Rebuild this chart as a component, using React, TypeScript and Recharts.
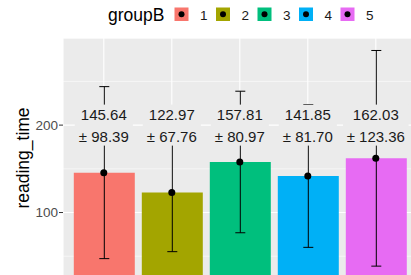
import {
  Bar,
  CartesianGrid,
  Cell,
  ComposedChart,
  ErrorBar,
  Label,
  LabelList,
  Legend,
  Line,
  XAxis,
  YAxis,
} from "recharts";

const groups = ["1", "2", "3", "4", "5"];
const means = [145.64, 122.97, 157.81, 141.85, 162.03];
const sds = [98.39, 67.76, 80.97, 81.7, 123.36];
const labelAt = [200, 200, 200, 200, 200];
const colors = ["#F8766D", "#A3A500", "#00BF7D", "#00B0F6", "#E76BF3"];
const yDomain = [-14.27, 299.66];
const majorTicks = [100, 200];
const minorTicks = [50, 150, 250];

const data = groups.map((g, i) => ({
  group: g,
  mean: means[i],
  sd: sds[i],
  labelAt: labelAt[i],
}));

const FONT = '"Liberation Sans", Arial, Helvetica, sans-serif';
const PANEL = "#EBEBEB";

function GroupLegend() {
  return (
    <svg width={420} height={38} style={{ display: "block" }}>
      <text x={108} y={21} fontSize={17.5} fill="#000" fontFamily={FONT}>
        groupB
      </text>
      {groups.map((g, i) => {
        const kx = 174.5 + i * 41.5;
        return (
          <g key={g}>
            <rect x={kx} y={7.5} width={14} height={13.5} fill={colors[i]} />
            <circle cx={kx + 7} cy={14.25} r={3} fill="#000" />
            <text x={kx + 25.5} y={19.5} fontSize={13.5} fill="#1a1a1a" fontFamily={FONT}>
              {g}
            </text>
          </g>
        );
      })}
    </svg>
  );
}

function StatLabel(props: any) {
  const { x, y, index } = props;
  const top = means[index].toFixed(2);
  const bottom = `± ${sds[index].toFixed(2)}`;
  const w = bottom.length * 7.45 + 6;
  return (
    <g>
      <rect x={x - w / 2} y={y - 20.5} width={w} height={41} fill={PANEL} />
      <text x={x} y={y - 5} textAnchor="middle" fontSize={15} fill="#1a1a1a" fontFamily={FONT}>
        {top}
      </text>
      <text x={x} y={y + 17} textAnchor="middle" fontSize={15} fill="#1a1a1a" fontFamily={FONT}>
        {bottom}
      </text>
    </g>
  );
}

export default function App() {
  return (
    <div
      style={{
        position: "absolute",
        left: 0,
        top: 0,
        width: 411,
        height: 275,
        overflow: "hidden",
        background: "#fff",
        fontFamily: FONT,
      }}
    >
      <ComposedChart
        width={420}
        height={330}
        data={data}
        margin={{ top: 0, right: 3.4, left: 0, bottom: 17.6 }}
      >
        <Legend
          verticalAlign="top"
          height={38}
          wrapperStyle={{ top: 0, left: 0 }}
          content={() => <GroupLegend />}
        />
        <CartesianGrid fill={PANEL} stroke="#fff" strokeWidth={1.1} />
        <CartesianGrid yAxisId="minor" vertical={false} stroke="#fff" strokeWidth={0.55} />
        <XAxis dataKey="group" hide padding={{ left: 6.8, right: 6.8 }} />
        <YAxis
          type="number"
          domain={yDomain}
          allowDataOverflow
          ticks={majorTicks}
          width={63}
          axisLine={false}
          tickSize={4}
          tickMargin={1}
          tickLine={{ stroke: "#333", strokeWidth: 1 }}
          tick={{ fill: "#4D4D4D", fontSize: 13.5, fontFamily: FONT }}
        >
          <Label
            content={() => (
              <text
                x={29}
                y={158}
                transform="rotate(-90, 29, 158)"
                textAnchor="middle"
                fontSize={17.5}
                fill="#000"
                fontFamily={FONT}
              >
                reading_time
              </text>
            )}
          />
        </YAxis>
        <YAxis
          yAxisId="minor"
          type="number"
          domain={yDomain}
          allowDataOverflow
          ticks={minorTicks}
          hide
        />
        <Bar dataKey="mean" barSize={61} isAnimationActive={false}>
          {groups.map((g, i) => (
            <Cell key={g} fill={colors[i]} />
          ))}
          <ErrorBar dataKey="sd" width={5} stroke="#000" strokeWidth={1} direction="y" />
        </Bar>
        <Line
          dataKey="mean"
          stroke="none"
          dot={{ r: 3.5, fill: "#000", stroke: "none" }}
          activeDot={false}
          isAnimationActive={false}
        />
        <Line
          dataKey="labelAt"
          stroke="none"
          dot={false}
          activeDot={false}
          isAnimationActive={false}
        >
          <LabelList dataKey="labelAt" content={StatLabel} />
        </Line>
      </ComposedChart>
    </div>
  );
}
